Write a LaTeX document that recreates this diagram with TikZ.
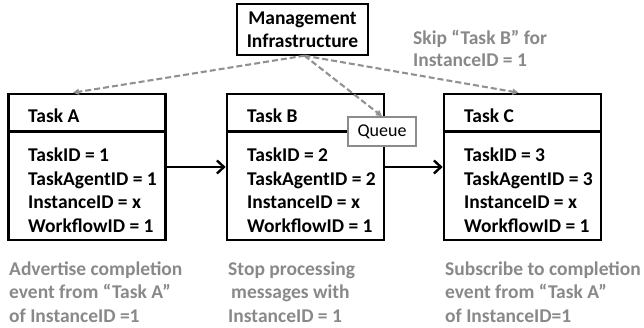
\documentclass[tikz,border=0pt]{standalone}
\usepackage{fontspec}
\setmainfont{Carlito}
\usetikzlibrary{arrows.meta}
\definecolor{txtgray}{RGB}{137,137,137}
\definecolor{dashgray}{RGB}{145,145,145}
\definecolor{qgray}{RGB}{140,140,140}
\begin{document}
\begin{tikzpicture}[x=1pt,y=-1pt,
  taskbox/.style={draw, line width=2.6pt, minimum width=157pt, minimum height=146pt, inner sep=0pt},
  lbl/.style={font=\bfseries\fontsize{19.5}{23}\selectfont, anchor=base west, inner sep=0pt},
  note/.style={lbl, text=txtgray},
  flow/.style={line width=2.4pt, -{Straight Barb[length=7pt,width=13pt,line width=2.4pt]}},
  ctrl/.style={draw=dashgray, line width=2.1pt, dash pattern=on 6pt off 3pt, -{Triangle[length=6pt,width=6pt]}},
]
\useasboundingbox (0,0) rectangle (644,328);

% task boxes
\node[taskbox] (A) at (87,167) {};
\node[taskbox] (B) at (305.5,167) {};
\node[taskbox] (C) at (522.5,167) {};
\foreach \t in {A,B,C}{
  \draw[line width=2.6pt] ([yshift=-39pt]\t.north west) -- ([yshift=-39pt]\t.north east);
}

% management box
\node[draw, line width=1.4pt, minimum width=131pt, minimum height=51pt, inner sep=0pt,
      align=center, font=\bfseries\fontsize{19.5}{23}\selectfont] (M) at (302.5,29.5) {Management\\Infrastructure};

% task texts
\node[lbl] (Ah) at (28,123) {Task A};
\node[lbl] (A1) at (28,162) {TaskID = 1};
\node[lbl] (A2) at (28,185.5) {TaskAgentID = 1};
\node[lbl] (A3) at (28,209) {InstanceID = x};
\node[lbl] (A4) at (28,232.5) {WorkflowID = 1};

\node[lbl] (Bh) at (247,123) {Task B};
\node[lbl] (B1) at (247,162) {TaskID = 2};
\node[lbl] (B2) at (247,185.5) {TaskAgentID = 2};
\node[lbl] (B3) at (247,209) {InstanceID = x};
\node[lbl] (B4) at (247,232.5) {WorkflowID = 1};

\node[lbl] (Ch) at (464,123) {Task C};
\node[lbl] (C1) at (464,162) {TaskID = 3};
\node[lbl] (C2) at (464,185.5) {TaskAgentID = 3};
\node[lbl] (C3) at (464,209) {InstanceID = x};
\node[lbl] (C4) at (464,232.5) {WorkflowID = 1};

% flow arrows
\draw[flow] (A.east) -- (B.west);
\draw[flow] (B.east) -- (C.west);

% management dashed connectors
\draw[ctrl] ([xshift=2pt]M.south) -- ([xshift=-14pt]A.north);
\draw[ctrl] ([xshift=2pt]M.south) -- ([xshift=-4pt]C.north);

% queue
\node[draw=qgray, line width=1.5pt, fill=white, minimum width=68pt, minimum height=29pt,
      inner sep=0pt, font=\fontsize{18}{20}\selectfont] (Q) at (382,131.5) {Queue};
\draw[ctrl] ([xshift=2pt]M.south) -- (Q.north);

% notes
\node[note] (S1) at (413,45) {Skip “Task B” for};
\node[note] (S2) at (413,67) {InstanceID = 1};

\node[note] (N1) at (9,275) {Advertise completion};
\node[note] (N2) at (9,298.5) {event from “Task A”};
\node[note] (N3) at (9,322) {of InstanceID =1};

\node[note] (P1) at (228,275) {Stop processing};
\node[note] (P2) at (231,298.5) {messages with};
\node[note] (P3) at (228,322) {InstanceID = 1};

\node[note] (R1) at (445,275) {Subscribe to completion};
\node[note] (R2) at (445,298.5) {event from “Task A”};
\node[note] (R3) at (445,322) {of InstanceID=1};
\end{tikzpicture}
\end{document}
